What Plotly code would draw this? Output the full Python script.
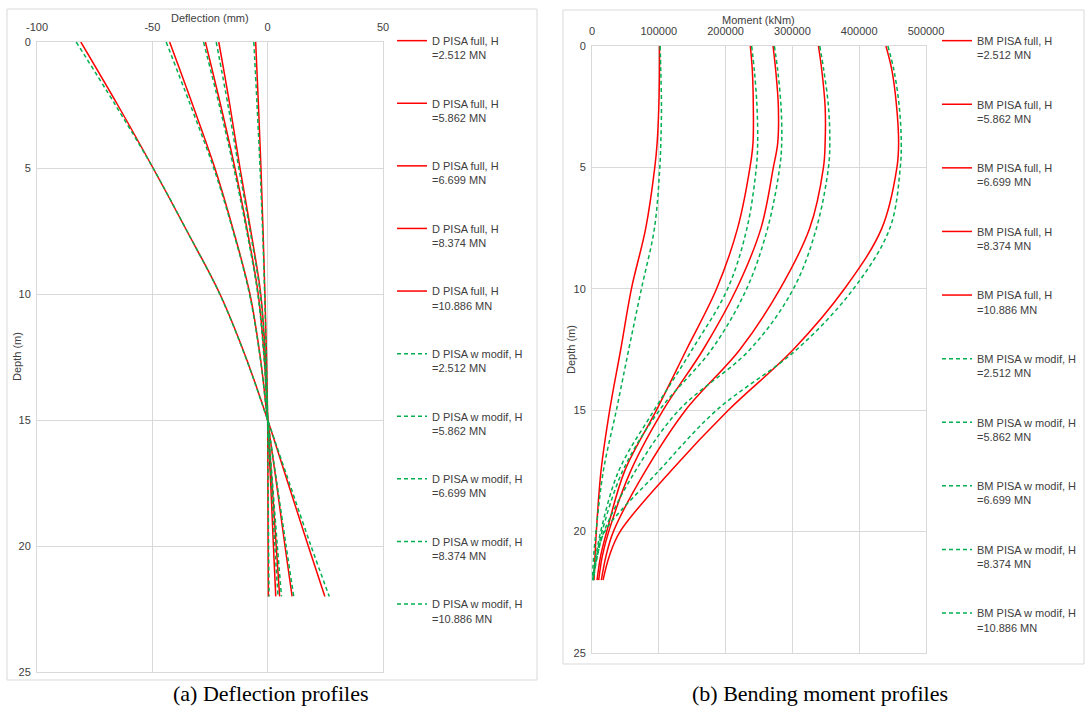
import plotly.graph_objects as go

W, H = 1085, 711

loads = ["2.512", "5.862", "6.699", "8.374", "10.886"]

# ---- Deflection data (mm) vs depth (m)
defl_depth = [0, 2.5, 5, 7.5, 10, 12.5, 15, 17.5, 20, 22]
defl_full = {
    "2.512": [-5.2, -4.0, -2.9, -2.0, -1.2, -0.5, 0, 0.1, 0.2, 0.3],
    "5.862": [-21.2, -16.4, -12.0, -7.3, -3.0, -1.0, 0, 1.3, 2.5, 3.5],
    "6.699": [-27.0, -20.4, -14.2, -8.8, -4.1, -1.5, 0, 1.9, 3.7, 5.2],
    "8.374": [-42.5, -32.5, -22.9, -14.8, -7.7, -3.2, 0, 3.8, 7.5, 10.6],
    "10.886": [-81.0, -65.0, -49.7, -35.0, -20.7, -9.5, 0, 8.8, 17.6, 24.8],
}
defl_modif = {
    "2.512": [-6.0, -4.6, -3.3, -2.2, -1.3, -0.6, 0, 0.2, 0.4, 0.6],
    "5.862": [-22.3, -17.2, -12.5, -7.6, -3.2, -1.1, 0, 1.6, 3.1, 4.5],
    "6.699": [-27.8, -21.0, -14.7, -9.1, -4.3, -1.6, 0, 2.1, 4.2, 6.0],
    "8.374": [-44.0, -33.5, -23.4, -15.0, -7.9, -3.3, 0, 4.0, 8.0, 11.3],
    "10.886": [-83.0, -66.0, -49.7, -35.0, -20.8, -9.6, 0, 9.4, 18.8, 26.7],
}
defl_ticks = [-100, -50, 0, 50]
defl_ticklabels = ["-100", "-50", "0", "50"]

# ---- Bending moment data (kNm) vs depth (m)
mom_depth = [0, 1, 2.5, 4, 5, 7.5, 10, 12.5, 15, 17.5, 20, 21, 22]
mom_full = {
    "2.512": [101000, 101000, 100000, 97500, 94000, 80500, 59000, 43000, 26500, 13500, 6500, 4500, 3000],
    "5.862": [237000, 240000, 241500, 241000, 236500, 218000, 186500, 141500, 96500, 49000, 22000, 13000, 7500],
    "6.699": [271000, 275000, 279000, 278000, 271500, 253000, 216500, 166500, 106500, 58000, 25000, 15500, 10000],
    "8.374": [339000, 344000, 349000, 349000, 346500, 326000, 281500, 221500, 140000, 80000, 32000, 21000, 14000],
    "10.886": [440000, 449000, 456000, 459000, 456500, 434000, 378000, 301500, 204000, 118000, 42000, 26000, 16500],
}
mom_modif = {
    "2.512": [102000, 103000, 104000, 103000, 101500, 93500, 74000, 55000, 36500, 17000, 6000, 2500, 500],
    "5.862": [239000, 243000, 247000, 248000, 246000, 232000, 203000, 150000, 93000, 40000, 13000, 6000, 1000],
    "6.699": [273000, 278000, 283000, 284000, 281000, 263000, 231500, 179000, 101000, 46000, 15000, 7000, 1500],
    "8.374": [341000, 347000, 354000, 356000, 354000, 336000, 301500, 236500, 130000, 65000, 18000, 8000, 2000],
    "10.886": [443000, 452000, 460000, 463000, 461500, 446000, 391500, 306500, 186500, 100000, 19000, 8000, 1500],
}

RED = "#FF0000"
GREEN = "#00B050"
TXT = "#404040"
GRID = "#D9D9D9"
FONT = "Liberation Sans, Arial, sans-serif"
SERIF = "Liberation Serif, Times New Roman, serif"


def px(x):
    return x / W


def py(y):
    return 1 - y / H


fig = go.Figure()

# Deflection traces
for i, h in enumerate(loads):
    fig.add_trace(go.Scatter(
        x=defl_full[h], y=defl_depth, mode="lines", line=dict(color=RED, width=1.5, shape="spline"),
        name=f"D PISA full, H<br>={h} MN", xaxis="x", yaxis="y",
        legend="legend", legendgroup=f"df{i}"))
for i, h in enumerate(loads):
    fig.add_trace(go.Scatter(
        x=defl_modif[h], y=defl_depth, mode="lines",
        line=dict(color=GREEN, width=1.5, dash="4px,3px", shape="spline"),
        name=f"D PISA w modif, H<br>={h} MN", xaxis="x", yaxis="y",
        legend="legend", legendgroup=f"dm{i}"))

# Moment traces
for i, h in enumerate(loads):
    fig.add_trace(go.Scatter(
        x=mom_full[h], y=mom_depth, mode="lines", line=dict(color=RED, width=1.5, shape="spline"),
        name=f"BM PISA full, H<br>={h} MN", xaxis="x2", yaxis="y2",
        legend="legend2", legendgroup=f"mf{i}"))
for i, h in enumerate(loads):
    fig.add_trace(go.Scatter(
        x=mom_modif[h], y=mom_depth, mode="lines",
        line=dict(color=GREEN, width=1.5, dash="4px,3px", shape="spline"),
        name=f"BM PISA w modif, H<br>={h} MN", xaxis="x2", yaxis="y2",
        legend="legend2", legendgroup=f"mm{i}"))

axis_common = dict(showgrid=True, gridcolor=GRID, gridwidth=1, zeroline=False,
                   showline=True, linecolor=GRID, linewidth=1, mirror=True, automargin=False,
                   ticks="", tickfont=dict(size=11, color=TXT, family=FONT))


def label(text, x, y, angle=0):
    return dict(text=text, x=px(x), y=py(y), xref="paper", yref="paper", showarrow=False,
                textangle=angle, font=dict(family=FONT, size=11, color=TXT),
                xanchor="center", yanchor="middle")


fig.update_layout(
    width=W, height=H,
    margin=dict(l=0, r=0, t=0, b=0),
    paper_bgcolor="white", plot_bgcolor="white",
    font=dict(family=FONT, size=11, color=TXT),
    xaxis=dict(domain=[px(37), px(383)], range=[-100, 50], tickvals=defl_ticks, ticktext=defl_ticklabels,
               side="top", anchor="y", ticklabelstandoff=6, **axis_common),
    yaxis=dict(domain=[py(672), py(42)], range=[25, 0], dtick=5, anchor="x",
               ticklabelstandoff=3, **axis_common),
    xaxis2=dict(domain=[px(592), px(926)], range=[0, 500000], dtick=100000, side="top", anchor="y2",
                tickformat="d", ticklabelstandoff=6, **axis_common),
    yaxis2=dict(domain=[py(653), py(46)], range=[25, 0], dtick=5, anchor="x2",
                ticklabelstandoff=3, **axis_common),
    legend=dict(x=px(392), y=py(27), xanchor="left", yanchor="top", bgcolor="rgba(0,0,0,0)",
                font=dict(size=11, color=TXT, family=FONT), traceorder="grouped",
                tracegroupgap=31, valign="top", itemwidth=30),
    legend2=dict(x=px(937), y=py(27), xanchor="left", yanchor="top", bgcolor="rgba(0,0,0,0)",
                 font=dict(size=11, color=TXT, family=FONT), traceorder="grouped",
                 tracegroupgap=32, valign="top", itemwidth=30),
    shapes=[
        dict(type="rect", xref="paper", yref="paper", x0=px(7), x1=px(537), y0=py(680), y1=py(9),
             line=dict(color=GRID, width=1), fillcolor="rgba(0,0,0,0)", layer="below"),
        dict(type="rect", xref="paper", yref="paper", x0=px(563), x1=px(1084), y0=py(664), y1=py(10),
             line=dict(color=GRID, width=1), fillcolor="rgba(0,0,0,0)", layer="below"),
    ],
    annotations=[
        label("Deflection (mm)", 210, 18),
        label("Depth (m)", 17, 357, -90),
        label("Moment (kNm)", 759, 20),
        label("Depth (m)", 571, 350, -90),
        dict(text="(a) Deflection profiles", x=px(270), y=py(693), xref="paper", yref="paper",
             showarrow=False, font=dict(family=SERIF, size=22, color="#000000"),
             xanchor="center", yanchor="middle"),
        dict(text="(b) Bending moment profiles", x=px(820), y=py(693), xref="paper", yref="paper",
             showarrow=False, font=dict(family=SERIF, size=22, color="#000000"),
             xanchor="center", yanchor="middle"),
    ],
)

fig.write_html("out.html", config={"displayModeBar": False},
               post_script="document.body.style.margin='0';document.body.style.overflow='hidden';")
